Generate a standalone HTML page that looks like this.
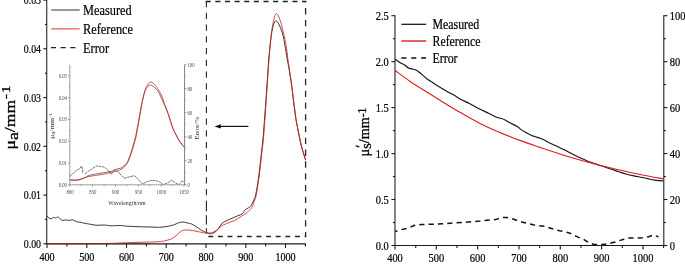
<!DOCTYPE html><html><head><meta charset="utf-8"><style>html,body{margin:0;padding:0;background:#fff}body{width:685px;height:264px;overflow:hidden;font-family:"Liberation Serif",serif}</style></head><body><svg width="685" height="264" viewBox="0 0 685 264" style="display:block">
<rect width="685" height="264" fill="#fff"/>
<g font-family="'Liberation Serif', serif" fill="#000">
<path d="M47.00,216.01 C47.33,216.34 48.32,217.48 48.99,217.96 C49.65,218.45 50.25,219.02 50.98,218.94 C51.70,218.86 52.56,217.64 53.36,217.48 C54.16,217.31 54.95,218.04 55.75,217.96 C56.54,217.88 57.34,216.74 58.13,216.99 C58.93,217.23 59.72,218.86 60.52,219.43 C61.31,219.99 62.04,220.32 62.90,220.40 C63.76,220.48 64.69,219.91 65.68,219.91 C66.68,219.91 67.67,220.40 68.86,220.40 C70.05,220.40 71.51,219.67 72.84,219.91 C74.16,220.16 75.49,221.46 76.81,221.86 C78.14,222.27 79.46,222.11 80.79,222.35 C82.11,222.59 83.11,223.00 84.76,223.33 C86.42,223.65 88.74,223.98 90.72,224.30 C92.71,224.62 94.37,225.15 96.69,225.28 C99.01,225.40 102.32,224.95 104.64,225.03 C106.96,225.11 108.02,225.68 110.60,225.76 C113.18,225.84 117.49,225.45 120.14,225.52 C122.79,225.58 123.98,225.97 126.50,226.15 C129.02,226.33 132.59,226.48 135.25,226.59 C137.90,226.71 139.88,226.77 142.40,226.84 C144.92,226.90 147.50,226.90 150.35,226.98 C153.20,227.06 156.91,227.39 159.49,227.32 C162.08,227.26 164.13,226.84 165.85,226.59 C167.58,226.35 168.57,226.13 169.83,225.86 C171.09,225.59 172.34,225.32 173.41,224.98 C174.47,224.64 175.33,224.18 176.19,223.81 C177.05,223.45 177.84,223.05 178.57,222.79 C179.30,222.53 179.90,222.38 180.56,222.25 C181.22,222.12 181.89,222.01 182.55,222.01 C183.21,222.01 183.81,222.12 184.53,222.25 C185.26,222.38 186.12,222.59 186.92,222.79 C187.72,222.98 188.51,223.22 189.31,223.42 C190.10,223.63 190.96,223.74 191.69,224.01 C192.42,224.28 192.95,224.60 193.68,225.03 C194.41,225.46 195.27,226.06 196.06,226.59 C196.86,227.12 197.72,227.70 198.45,228.20 C199.18,228.70 199.71,229.14 200.44,229.61 C201.16,230.09 202.03,230.60 202.82,231.03 C203.62,231.46 204.68,231.95 205.21,232.20 C205.74,232.44 205.67,232.39 206.00,232.49 C206.33,232.59 206.73,232.68 207.19,232.78 C207.66,232.89 208.19,233.07 208.78,233.12 C209.38,233.17 210.11,233.16 210.77,233.08 C211.43,232.99 212.03,232.90 212.76,232.59 C213.49,232.28 214.38,231.72 215.14,231.22 C215.90,230.73 216.60,230.32 217.33,229.61 C218.06,228.91 218.75,228.00 219.52,226.98 C220.28,225.97 221.04,224.41 221.90,223.52 C222.76,222.63 223.75,222.16 224.68,221.62 C225.61,221.08 226.47,220.77 227.47,220.30 C228.46,219.84 229.52,219.34 230.65,218.84 C231.77,218.34 233.03,217.79 234.22,217.28 C235.41,216.77 236.54,216.30 237.80,215.77 C239.06,215.24 240.85,214.64 241.78,214.11 C242.70,213.58 242.90,213.23 243.37,212.60 C243.83,211.97 244.03,210.92 244.56,210.31 C245.09,209.70 245.88,209.37 246.55,208.94 C247.21,208.51 247.90,208.13 248.53,207.73 C249.17,207.32 249.83,207.08 250.36,206.51 C250.89,205.94 251.25,205.10 251.71,204.31 C252.18,203.52 252.71,202.67 253.14,201.78 C253.57,200.88 253.93,199.89 254.30,198.95 C254.67,198.01 254.87,198.24 255.37,196.12 C255.87,194.01 256.63,190.27 257.28,186.28 C257.93,182.28 258.60,177.42 259.26,172.14 C259.93,166.86 260.62,160.28 261.25,154.59 C261.89,148.90 262.48,144.59 263.08,138.01 C263.68,131.43 264.35,121.44 264.83,115.10 C265.31,108.76 265.53,105.92 265.94,99.99 C266.36,94.06 266.87,86.18 267.33,79.51 C267.80,72.85 268.28,65.54 268.73,60.01 C269.17,54.49 269.59,50.34 270.00,46.36 C270.41,42.38 270.83,38.81 271.19,36.13 C271.55,33.44 271.85,31.98 272.18,30.28 C272.52,28.57 272.85,27.07 273.18,25.89 C273.51,24.71 273.84,23.95 274.17,23.21 C274.50,22.46 274.83,21.77 275.17,21.40 C275.50,21.04 275.83,21.00 276.16,21.01 C276.49,21.03 276.82,21.18 277.15,21.50 C277.48,21.82 277.81,22.39 278.15,22.96 C278.48,23.53 278.78,24.18 279.14,24.91 C279.50,25.64 279.94,26.37 280.33,27.35 C280.73,28.32 281.13,29.62 281.52,30.76 C281.92,31.90 282.32,32.71 282.72,34.18 C283.12,35.64 283.55,37.67 283.91,39.54 C284.27,41.41 284.54,43.28 284.90,45.39 C285.27,47.50 285.68,49.78 286.10,52.21 C286.51,54.65 286.94,57.41 287.41,60.01 C287.87,62.61 288.40,65.05 288.88,67.81 C289.36,70.58 289.77,73.34 290.27,76.59 C290.77,79.84 291.33,83.33 291.86,87.31 C292.39,91.29 292.79,95.28 293.45,100.48 C294.11,105.68 295.17,114.04 295.84,118.51 C296.50,122.98 296.83,124.20 297.43,127.29 C298.02,130.38 298.75,133.87 299.41,137.04 C300.08,140.21 300.74,143.62 301.40,146.30 C302.06,148.98 302.86,151.34 303.39,153.12 C303.92,154.91 304.22,155.89 304.58,157.03 C304.94,158.16 305.41,159.46 305.57,159.95" stroke="#222" stroke-width="0.9" fill="none"/><path d="M69.80,179.74 C70.03,179.76 70.64,179.83 71.17,179.87 C71.70,179.92 72.31,180.00 73.00,180.03 C73.68,180.05 74.52,180.04 75.28,180.00 C76.04,179.96 76.73,179.92 77.57,179.79 C78.40,179.65 79.43,179.40 80.31,179.18 C81.18,178.95 81.98,178.77 82.82,178.46 C83.66,178.14 84.46,177.73 85.33,177.28 C86.21,176.82 87.08,176.13 88.07,175.73 C89.06,175.33 90.20,175.12 91.27,174.88 C92.34,174.64 93.33,174.50 94.47,174.29 C95.61,174.09 96.83,173.86 98.12,173.64 C99.42,173.41 100.86,173.17 102.23,172.94 C103.60,172.71 104.90,172.50 106.34,172.27 C107.79,172.03 109.85,171.76 110.91,171.52 C111.98,171.29 112.21,171.13 112.74,170.85 C113.27,170.56 113.50,170.10 114.11,169.82 C114.72,169.55 115.63,169.41 116.39,169.21 C117.15,169.02 117.95,168.85 118.68,168.67 C119.41,168.49 120.17,168.38 120.78,168.12 C121.39,167.87 121.80,167.49 122.33,167.14 C122.86,166.79 123.48,166.41 123.98,166.01 C124.47,165.61 124.87,165.17 125.30,164.74 C125.73,164.32 125.96,164.42 126.53,163.48 C127.11,162.53 127.98,160.86 128.73,159.08 C129.47,157.29 130.25,155.12 131.01,152.75 C131.77,150.39 132.56,147.45 133.30,144.91 C134.03,142.36 134.71,140.44 135.40,137.49 C136.08,134.55 136.86,130.08 137.41,127.25 C137.95,124.41 138.21,123.14 138.69,120.49 C139.17,117.84 139.75,114.31 140.28,111.33 C140.82,108.35 141.37,105.08 141.88,102.61 C142.39,100.14 142.87,98.29 143.34,96.51 C143.82,94.73 144.30,93.13 144.72,91.93 C145.13,90.73 145.48,90.08 145.86,89.32 C146.24,88.55 146.62,87.88 147.00,87.35 C147.38,86.83 147.76,86.49 148.14,86.16 C148.52,85.82 148.90,85.51 149.28,85.35 C149.66,85.18 150.04,85.17 150.43,85.17 C150.81,85.18 151.19,85.25 151.57,85.39 C151.95,85.54 152.33,85.79 152.71,86.05 C153.09,86.30 153.43,86.59 153.85,86.92 C154.27,87.25 154.76,87.57 155.22,88.01 C155.68,88.44 156.14,89.03 156.59,89.53 C157.05,90.04 157.51,90.41 157.96,91.06 C158.42,91.71 158.91,92.62 159.33,93.46 C159.75,94.29 160.06,95.13 160.47,96.07 C160.89,97.02 161.37,98.04 161.85,99.13 C162.32,100.22 162.82,101.45 163.35,102.61 C163.89,103.78 164.49,104.87 165.04,106.10 C165.59,107.34 166.07,108.57 166.64,110.03 C167.21,111.48 167.86,113.04 168.47,114.82 C169.08,116.60 169.53,118.38 170.30,120.71 C171.06,123.03 172.28,126.78 173.04,128.77 C173.80,130.77 174.18,131.32 174.86,132.70 C175.55,134.08 176.39,135.64 177.15,137.06 C177.91,138.48 178.67,140.00 179.43,141.20 C180.19,142.40 181.11,143.45 181.72,144.25 C182.33,145.05 182.67,145.49 183.09,146.00 C183.51,146.50 184.04,147.09 184.23,147.30" stroke="#3a3a3a" stroke-width="0.7" fill="none"/><path d="M69.80,180.09 C70.49,180.13 72.69,180.30 73.91,180.33 C75.13,180.36 76.04,180.39 77.11,180.27 C78.17,180.14 79.24,179.88 80.31,179.57 C81.37,179.25 82.40,178.79 83.50,178.37 C84.61,177.94 85.79,177.36 86.93,177.02 C88.07,176.67 89.25,176.51 90.36,176.30 C91.46,176.08 92.34,175.93 93.55,175.73 C94.77,175.53 96.22,175.33 97.66,175.12 C99.11,174.91 100.79,174.72 102.23,174.47 C103.68,174.21 104.90,173.92 106.34,173.57 C107.79,173.22 109.62,172.71 110.91,172.37 C112.21,172.04 113.04,171.85 114.11,171.57 C115.18,171.28 116.39,170.95 117.31,170.67 C118.22,170.40 118.83,170.22 119.59,169.93 C120.35,169.65 121.19,169.37 121.88,168.97 C122.56,168.58 123.17,168.07 123.70,167.58 C124.24,167.08 124.49,166.69 125.07,166.01 C125.66,165.33 126.53,164.63 127.22,163.48 C127.90,162.32 128.48,160.86 129.18,159.08 C129.89,157.29 130.71,155.12 131.47,152.75 C132.23,150.39 133.02,147.45 133.75,144.91 C134.48,142.36 135.18,140.44 135.85,137.49 C136.53,134.55 137.28,130.08 137.82,127.25 C138.35,124.41 138.59,123.14 139.05,120.49 C139.52,117.84 140.09,114.31 140.60,111.33 C141.12,108.35 141.66,105.16 142.16,102.61 C142.65,100.07 143.13,98.00 143.57,96.07 C144.01,94.15 144.43,92.37 144.81,91.06 C145.19,89.75 145.51,89.06 145.86,88.23 C146.21,87.39 146.57,86.70 146.91,86.05 C147.25,85.39 147.59,84.81 147.91,84.30 C148.23,83.79 148.52,83.34 148.83,82.99 C149.13,82.65 149.41,82.41 149.74,82.23 C150.07,82.05 150.41,81.90 150.79,81.90 C151.17,81.90 151.59,82.01 152.02,82.23 C152.46,82.45 152.94,82.81 153.39,83.21 C153.85,83.61 154.31,84.12 154.76,84.63 C155.22,85.14 155.64,85.59 156.14,86.26 C156.63,86.94 157.20,87.83 157.73,88.66 C158.27,89.50 158.84,90.44 159.33,91.28 C159.83,92.11 160.28,92.88 160.70,93.68 C161.12,94.48 161.46,95.17 161.85,96.07 C162.23,96.98 162.64,98.11 162.99,99.13 C163.33,100.14 163.52,101.05 163.90,102.18 C164.28,103.30 164.81,104.65 165.27,105.88 C165.73,107.12 166.11,108.14 166.64,109.59 C167.17,111.04 167.86,112.82 168.47,114.60 C169.08,116.38 169.53,117.95 170.30,120.27 C171.06,122.60 172.28,126.52 173.04,128.56 C173.80,130.59 174.18,131.10 174.86,132.48 C175.55,133.86 176.39,135.42 177.15,136.84 C177.91,138.26 178.67,139.78 179.43,140.98 C180.19,142.18 181.11,143.23 181.72,144.03 C182.33,144.83 182.67,145.23 183.09,145.78 C183.51,146.32 184.04,147.05 184.23,147.30" stroke="#d62020" stroke-width="0.8" fill="none"/><path d="M69.80,176.40 L72.00,174.50 L74.50,172.00 L77.00,170.00 L79.50,168.80 L81.60,166.00 L82.30,169.00 L83.00,173.50" stroke="#222" stroke-width="0.65" fill="none" stroke-dasharray="2.6,0.7"/><path d="M85.00,174.20 L88.00,171.50 L91.00,169.50 L94.00,167.50 L96.50,166.00 L99.00,166.30 L101.00,166.50 L103.50,167.00 L105.60,168.00 L108.00,170.50 L110.00,173.00 L111.40,174.40 L112.60,172.50 L114.70,170.60 L116.30,171.30 L118.50,172.00 L120.20,174.00 L122.20,176.30 L124.40,178.20 L127.00,177.60 L129.70,176.80 L132.00,176.20 L134.30,175.80 L136.20,177.00 L138.10,179.10 L140.40,181.80 L142.60,184.00 L145.00,182.80 L148.00,181.40 L150.30,180.70 L152.50,180.30 L155.50,180.70 L158.60,181.40 L161.00,183.00 L163.10,184.40 L165.40,183.80 L167.70,182.90 L169.60,181.40 L171.50,180.30 L173.40,181.40 L175.30,182.90 L177.20,183.90 L179.10,184.40 L180.60,183.00 L182.10,180.60 L183.20,181.60 L184.10,182.10" stroke="#222" stroke-width="0.65" fill="none" stroke-dasharray="2.6,0.7"/><path d="M395.10,59.20 C395.95,59.78 398.67,61.78 400.20,62.70 C401.73,63.62 402.93,63.82 404.30,64.70 C405.67,65.58 407.03,67.28 408.40,68.00 C409.77,68.72 410.97,68.52 412.50,69.00 C414.03,69.48 416.02,69.97 417.60,70.90 C419.18,71.83 420.47,73.30 422.00,74.60 C423.53,75.90 424.80,77.23 426.80,78.70 C428.80,80.17 431.60,81.87 434.00,83.40 C436.40,84.93 438.87,86.48 441.20,87.90 C443.53,89.32 445.62,90.55 448.00,91.90 C450.38,93.25 453.42,94.77 455.50,96.00 C457.58,97.23 458.12,98.02 460.50,99.30 C462.88,100.58 466.63,102.07 469.80,103.70 C472.97,105.33 476.32,107.48 479.50,109.10 C482.68,110.72 486.07,112.03 488.90,113.40 C491.73,114.77 494.28,116.40 496.50,117.30 C498.72,118.20 500.62,118.27 502.20,118.80 C503.78,119.33 504.73,119.85 506.00,120.50 C507.27,121.15 507.92,121.68 509.80,122.70 C511.68,123.72 515.42,125.45 517.30,126.60 C519.18,127.75 519.73,128.65 521.10,129.60 C522.47,130.55 523.92,131.42 525.50,132.30 C527.08,133.18 528.97,134.17 530.60,134.90 C532.23,135.63 533.73,136.13 535.30,136.70 C536.87,137.27 538.42,137.70 540.00,138.30 C541.58,138.90 543.52,139.68 544.80,140.30 C546.08,140.92 545.97,141.12 547.70,142.00 C549.43,142.88 552.37,144.28 555.20,145.60 C558.03,146.92 562.48,148.83 564.70,149.90 C566.92,150.97 566.48,150.95 568.50,152.00 C570.52,153.05 574.38,155.03 576.80,156.20 C579.22,157.37 580.95,158.08 583.00,159.00 C585.05,159.92 587.22,160.95 589.10,161.70 C590.98,162.45 592.58,162.92 594.30,163.50 C596.02,164.08 597.53,164.57 599.40,165.20 C601.27,165.83 603.47,166.62 605.50,167.30 C607.53,167.98 609.38,168.57 611.60,169.30 C613.82,170.03 616.40,170.92 618.80,171.70 C621.20,172.48 623.47,173.30 626.00,174.00 C628.53,174.70 631.28,175.32 634.00,175.90 C636.72,176.48 639.88,177.00 642.30,177.50 C644.72,178.00 646.45,178.47 648.50,178.90 C650.55,179.33 652.85,179.82 654.60,180.10 C656.35,180.38 657.55,180.47 659.00,180.60 C660.45,180.73 662.58,180.85 663.30,180.90" stroke="#151515" stroke-width="1.15" fill="none"/><path d="M395.10,70.50 C397.67,72.37 405.22,78.12 410.50,81.70 C415.78,85.28 421.88,88.90 426.80,92.00 C431.72,95.10 436.92,98.37 440.00,100.30 C443.08,102.23 441.88,101.55 445.30,103.60 C448.72,105.65 454.57,109.22 460.50,112.60 C466.43,115.98 474.08,120.48 480.90,123.90 C487.72,127.32 494.92,130.35 501.40,133.10 C507.88,135.85 513.37,138.02 519.80,140.40 C526.23,142.78 533.22,145.10 540.00,147.40 C546.78,149.70 553.68,152.05 560.50,154.20 C567.32,156.35 574.42,158.47 580.90,160.30 C587.38,162.13 592.57,163.50 599.40,165.20 C606.23,166.90 614.75,168.87 621.90,170.50 C629.05,172.13 635.40,173.62 642.30,175.00 C649.20,176.38 659.80,178.17 663.30,178.80" stroke="#e21c1c" stroke-width="1.15" fill="none"/><path d="M395.10,231.60 L400.20,229.90 L408.40,228.10 L415.60,224.80 L420.70,224.60 L435.00,224.10 L450.00,223.30 L465.00,222.20 L480.00,221.10 L490.30,219.90 L495.40,219.60 L499.50,218.30 L503.60,217.50 L506.60,217.50 L508.70,217.90 L513.80,219.30 L517.90,220.70 L522.00,222.00 L528.20,223.60 L533.10,224.80 L538.20,225.60 L541.30,225.90 L545.40,226.50 L551.50,228.50 L556.60,230.20 L559.70,230.80 L564.80,231.60 L569.90,233.20 L575.00,235.70 L578.10,237.10 L583.60,239.40 L588.30,242.40 L593.40,244.30 L596.50,244.60 L602.70,244.50 L607.40,243.90 L611.90,242.80 L616.00,241.80 L620.00,240.40 L624.10,239.20 L629.30,238.10 L633.40,238.00 L638.50,237.90 L642.60,237.80 L648.70,236.70 L652.80,235.30 L658.50,236.70" stroke="#111" stroke-width="1.5" fill="none" stroke-dasharray="5.2,4.15" stroke-dashoffset="2.7"/>
<g stroke="#1a1a1a" stroke-width="1.1" fill="none">
<path d="M46.75,0 V244.35000000000002" stroke-width="1.0" stroke="#111"/>
<path d="M46.55,243.8 H305.8" stroke-width="1.15"/>
<path d="M43.3,243.8 H47.0"/>
<path d="M43.3,195.1 H47.0"/>
<path d="M43.3,146.3 H47.0"/>
<path d="M43.3,97.6 H47.0"/>
<path d="M43.3,48.8 H47.0"/>
<path d="M43.3,0.1 H47.0"/>
<path d="M44.9,219.4 H47.0"/>
<path d="M44.9,170.7 H47.0"/>
<path d="M44.9,121.9 H47.0"/>
<path d="M44.9,73.2 H47.0"/>
<path d="M44.9,24.4 H47.0"/>
<path d="M47.0,243.8 V247.9"/>
<path d="M86.8,243.8 V247.9"/>
<path d="M126.5,243.8 V247.9"/>
<path d="M166.2,243.8 V247.9"/>
<path d="M206.0,243.8 V247.9"/>
<path d="M245.8,243.8 V247.9"/>
<path d="M285.5,243.8 V247.9"/>
<path d="M66.9,243.8 V246.5"/>
<path d="M106.6,243.8 V246.5"/>
<path d="M146.4,243.8 V246.5"/>
<path d="M186.1,243.8 V246.5"/>
<path d="M225.9,243.8 V246.5"/>
<path d="M265.6,243.8 V246.5"/>
<path d="M305.4,243.8 V246.5"/>
</g>
<path d="M51.3,10 H79.7" stroke="#333" stroke-width="1"/>
<path d="M51.3,28.9 H79.7" stroke="#dd3030" stroke-width="1"/>
<path d="M50.9,47.7 H76" stroke="#222" stroke-width="1.25" stroke-dasharray="5.1,4.6"/>
<path d="M205.70,1.5H210.80M215.33,1.5H220.43M224.96,1.5H230.06M234.59,1.5H239.69M244.22,1.5H249.32M253.85,1.5H258.95M263.48,1.5H268.58M273.11,1.5H278.21M282.74,1.5H287.84M292.37,1.5H297.47M302.00,1.5H306.20M208.30,236.5H213.20M217.93,236.5H222.83M227.56,236.5H232.46M237.19,236.5H242.09M246.82,236.5H251.72M256.45,236.5H261.35M266.08,236.5H270.98M275.71,236.5H280.61M285.34,236.5H290.24M294.97,236.5H299.87M304.60,236.5H306.20" stroke="#222" stroke-width="1.3" fill="none"/>
<path d="M206.4,0.90V7.20M206.4,12.65V18.95M206.4,24.40V30.70M206.4,36.15V42.45M206.4,47.90V54.20M206.4,59.65V65.95M206.4,71.40V77.70M206.4,83.15V89.45M206.4,94.90V101.20M206.4,106.65V112.95M206.4,118.40V124.70M206.4,130.15V136.45M206.4,141.90V148.20M206.4,153.65V159.95M206.4,165.40V171.70M206.4,177.15V183.45M206.4,188.90V195.20M206.4,200.8V211.2M206.4,215.2V224.5M206.4,228.2V232.6" stroke="#222" stroke-width="1.1" fill="none"/>
<path d="M305.6,1.0V2.6M305.6,8.10V14.40M305.6,19.89V26.19M305.6,31.68V37.98M305.6,43.47V49.77M305.6,55.26V61.56M305.6,67.05V73.35M305.6,78.84V85.14M305.6,90.63V96.93M305.6,102.42V108.72M305.6,114.21V120.51M305.6,126.00V132.30M305.6,137.79V144.09M305.6,149.58V155.88M305.6,161.37V167.67M305.6,173.16V179.46M305.6,184.95V191.25M305.6,196.74V203.04M305.6,208.53V214.83M305.6,220.32V226.62M305.6,232.11V237.10" stroke="#2c2c2c" stroke-width="1.35" fill="none"/>
<path d="M47.00,243.70 C53.62,243.69 76.15,243.65 86.75,243.61 C97.35,243.56 103.97,243.56 110.60,243.41 C117.22,243.26 121.20,242.93 126.50,242.73 C131.80,242.52 137.10,242.36 142.40,242.19 C147.70,242.02 154.39,241.97 158.30,241.70 C162.21,241.44 163.60,241.09 165.85,240.58 C168.11,240.08 170.09,239.51 171.81,238.68 C173.54,237.85 174.80,236.74 176.19,235.61 C177.58,234.48 178.97,232.79 180.16,231.91 C181.35,231.02 182.22,230.61 183.34,230.30 C184.47,229.98 185.33,229.96 186.92,230.00 C188.51,230.05 190.83,230.27 192.88,230.59 C194.94,230.91 197.19,231.48 199.24,231.91 C201.30,232.33 204.08,232.90 205.21,233.12 C206.33,233.35 205.27,233.16 206.00,233.27 C206.73,233.38 208.52,233.74 209.58,233.81 C210.64,233.87 211.43,233.94 212.36,233.66 C213.29,233.38 214.22,232.81 215.14,232.10 C216.07,231.39 216.96,230.37 217.93,229.42 C218.89,228.47 219.91,227.17 220.91,226.40 C221.90,225.62 222.93,225.27 223.89,224.79 C224.85,224.31 225.61,223.96 226.67,223.52 C227.73,223.08 228.99,222.63 230.25,222.16 C231.51,221.68 232.96,221.27 234.22,220.69 C235.48,220.12 236.54,219.47 237.80,218.69 C239.06,217.91 240.65,216.76 241.78,216.01 C242.90,215.27 243.63,214.84 244.56,214.21 C245.49,213.58 246.55,212.82 247.34,212.21 C248.13,211.60 248.67,211.19 249.33,210.55 C249.99,209.92 250.72,209.29 251.31,208.41 C251.91,207.53 252.44,206.39 252.91,205.29 C253.37,204.18 253.59,203.31 254.10,201.78 C254.61,200.25 255.37,198.71 255.97,196.12 C256.56,193.54 257.06,190.27 257.68,186.28 C258.29,182.28 259.00,177.42 259.66,172.14 C260.33,166.86 261.01,160.28 261.65,154.59 C262.29,148.90 262.89,144.59 263.48,138.01 C264.07,131.43 264.72,121.44 265.19,115.10 C265.65,108.76 265.86,105.92 266.26,99.99 C266.67,94.06 267.16,86.18 267.61,79.51 C268.06,72.85 268.53,65.70 268.96,60.01 C269.39,54.33 269.81,49.69 270.20,45.39 C270.58,41.08 270.94,37.10 271.27,34.18 C271.60,31.25 271.88,29.71 272.18,27.84 C272.49,25.97 272.80,24.43 273.10,22.96 C273.40,21.50 273.69,20.20 273.97,19.06 C274.25,17.93 274.50,16.91 274.77,16.14 C275.03,15.37 275.28,14.84 275.56,14.43 C275.85,14.03 276.15,13.70 276.48,13.70 C276.81,13.70 277.17,13.94 277.55,14.43 C277.93,14.92 278.35,15.73 278.74,16.62 C279.14,17.52 279.54,18.66 279.94,19.79 C280.33,20.93 280.70,21.95 281.13,23.45 C281.56,24.95 282.06,26.94 282.52,28.81 C282.98,30.68 283.48,32.79 283.91,34.66 C284.34,36.53 284.74,38.24 285.10,40.03 C285.47,41.81 285.77,43.36 286.10,45.39 C286.43,47.42 286.79,49.94 287.09,52.21 C287.39,54.49 287.55,56.52 287.88,59.04 C288.22,61.56 288.68,64.56 289.08,67.32 C289.47,70.09 289.81,72.36 290.27,75.61 C290.73,78.86 291.33,82.84 291.86,86.83 C292.39,90.81 292.79,94.30 293.45,99.50 C294.11,104.70 295.17,113.48 295.84,118.03 C296.50,122.58 296.83,123.71 297.43,126.80 C298.02,129.89 298.75,133.38 299.41,136.55 C300.08,139.72 300.74,143.13 301.40,145.81 C302.06,148.49 302.86,150.85 303.39,152.64 C303.92,154.42 304.22,155.32 304.58,156.54 C304.94,157.76 305.41,159.38 305.57,159.95" stroke="#d41c1c" stroke-width="1.0" stroke-opacity="0.82" fill="none"/>
<path d="M47.0,243.8 H150" stroke="#1a1a1a" stroke-width="1.1" stroke-opacity="0.3" fill="none"/>
<path d="M248.4,126.4 H219" stroke="#111" stroke-width="1.2"/>
<path d="M214.5,126.4 L220.8,124.2 L220.8,128.6 Z" fill="#111"/>
<g stroke="#7d7d7d" stroke-width="0.8" fill="none">
<path d="M69.8,64.8 V184.8 H184.6" stroke="#858585"/>
<path d="M184.6,185.20000000000002 V64.8" stroke="#5e5e5e"/>
<path d="M68.1,184.8 H69.8"/>
<path d="M68.1,163.0 H69.8"/>
<path d="M68.1,141.2 H69.8"/>
<path d="M68.1,119.4 H69.8"/>
<path d="M68.1,97.6 H69.8"/>
<path d="M68.1,75.8 H69.8"/>
<path d="M68.8,173.9 H69.8"/>
<path d="M68.8,152.1 H69.8"/>
<path d="M68.8,130.3 H69.8"/>
<path d="M68.8,108.5 H69.8"/>
<path d="M68.8,86.7 H69.8"/>
<path d="M184.6,184.8 h1.8"/>
<path d="M184.6,160.7 h1.8"/>
<path d="M184.6,136.7 h1.8"/>
<path d="M184.6,112.6 h1.8"/>
<path d="M184.6,88.6 h1.8"/>
<path d="M184.6,64.5 h1.8"/>
<path d="M184.6,172.8 h1.0"/>
<path d="M184.6,148.7 h1.0"/>
<path d="M184.6,124.7 h1.0"/>
<path d="M184.6,100.6 h1.0"/>
<path d="M184.6,76.5 h1.0"/>
<path d="M69.8,184.8 v1.7"/>
<path d="M92.6,184.8 v1.7"/>
<path d="M115.5,184.8 v1.7"/>
<path d="M138.3,184.8 v1.7"/>
<path d="M161.2,184.8 v1.7"/>
<path d="M184.0,184.8 v1.7"/>
<path d="M81.2,184.8 v1.0"/>
<path d="M104.1,184.8 v1.0"/>
<path d="M126.9,184.8 v1.0"/>
<path d="M149.7,184.8 v1.0"/>
<path d="M172.6,184.8 v1.0"/>
</g>
<g stroke="#1a1a1a" stroke-width="1.1" fill="none">
<path d="M395.0,15.2 V246.05 M663.8,246.05 V15.2" stroke-width="1.05"/>
<path d="M394.55,245.5 H664.25" stroke-width="1.15"/>
<path d="M391.4,245.5 H395.0"/>
<path d="M391.4,199.5 H395.0"/>
<path d="M391.4,153.6 H395.0"/>
<path d="M391.4,107.6 H395.0"/>
<path d="M391.4,61.7 H395.0"/>
<path d="M391.4,15.7 H395.0"/>
<path d="M392.9,222.5 H395.0"/>
<path d="M392.9,176.6 H395.0"/>
<path d="M392.9,130.6 H395.0"/>
<path d="M392.9,84.6 H395.0"/>
<path d="M392.9,38.7 H395.0"/>
<path d="M663.8,245.5 h3.6"/>
<path d="M663.8,199.5 h3.6"/>
<path d="M663.8,153.6 h3.6"/>
<path d="M663.8,107.6 h3.6"/>
<path d="M663.8,61.7 h3.6"/>
<path d="M663.8,15.7 h3.6"/>
<path d="M663.8,222.5 h2.1"/>
<path d="M663.8,176.6 h2.1"/>
<path d="M663.8,130.6 h2.1"/>
<path d="M663.8,84.6 h2.1"/>
<path d="M663.8,38.7 h2.1"/>
<path d="M395.0,245.5 v3.9"/>
<path d="M436.3,245.5 v3.9"/>
<path d="M477.7,245.5 v3.9"/>
<path d="M519.0,245.5 v3.9"/>
<path d="M560.3,245.5 v3.9"/>
<path d="M601.6,245.5 v3.9"/>
<path d="M643.0,245.5 v3.9"/>
<path d="M415.7,245.5 v2.5"/>
<path d="M457.0,245.5 v2.5"/>
<path d="M498.3,245.5 v2.5"/>
<path d="M539.7,245.5 v2.5"/>
<path d="M581.0,245.5 v2.5"/>
<path d="M622.3,245.5 v2.5"/>
<path d="M663.6,245.5 v2.5"/>
</g>
<path d="M356.2,145.8 L358.9,146.8" stroke="#111" stroke-width="1.25" stroke-linecap="round"/>
<path d="M401.4,24.3 H426.2" stroke="#111" stroke-width="1.25"/>
<path d="M401.4,41 H426.2" stroke="#d41a1a" stroke-width="1.35"/>
<path d="M401.4,57.9 H427" stroke="#111" stroke-width="1.5" stroke-dasharray="5.0,4.85"/>
<g style="filter:grayscale(1)" stroke="#000" stroke-width="0.22"><text transform="translate(41.00,248.10) scale(0.85,1)" font-size="11.6" text-anchor="end">0.00</text><text transform="translate(41.00,199.35) scale(0.85,1)" font-size="11.6" text-anchor="end">0.01</text><text transform="translate(41.00,150.60) scale(0.85,1)" font-size="11.6" text-anchor="end">0.02</text><text transform="translate(41.00,101.85) scale(0.85,1)" font-size="11.6" text-anchor="end">0.03</text><text transform="translate(41.00,53.10) scale(0.85,1)" font-size="11.6" text-anchor="end">0.04</text><text transform="translate(41.00,4.35) scale(0.85,1)" font-size="11.6" text-anchor="end">0.05</text><text transform="translate(47.00,261.00) scale(0.85,1)" font-size="11.9" text-anchor="middle">400</text><text transform="translate(86.75,261.00) scale(0.85,1)" font-size="11.9" text-anchor="middle">500</text><text transform="translate(126.50,261.00) scale(0.85,1)" font-size="11.9" text-anchor="middle">600</text><text transform="translate(166.25,261.00) scale(0.85,1)" font-size="11.9" text-anchor="middle">700</text><text transform="translate(206.00,261.00) scale(0.85,1)" font-size="11.9" text-anchor="middle">800</text><text transform="translate(245.75,261.00) scale(0.85,1)" font-size="11.9" text-anchor="middle">900</text><text transform="translate(285.50,261.00) scale(0.85,1)" font-size="11.9" text-anchor="middle">1000</text><text transform="translate(14.5,149.4) rotate(-90) scale(1,0.825)" font-size="17.6" stroke-width="0.4">μ<tspan dy="4.16">a</tspan><tspan dy="-4.16">/mm</tspan><tspan font-size="14.8" dy="-4.9" dx="0.9">-</tspan><tspan font-size="14.8" dx="1.0">1</tspan></text><text transform="translate(83.00,15.00) scale(0.792,1)" font-size="15.6" text-anchor="start">Measured</text><text transform="translate(83.00,33.80) scale(0.792,1)" font-size="15.6" text-anchor="start">Reference</text><text transform="translate(83.00,52.80) scale(0.792,1)" font-size="15.6" text-anchor="start">Error</text><text transform="translate(67.00,186.80) scale(0.82,1)" font-size="5.8" text-anchor="end" fill="#484848" stroke="none">0.00</text><text transform="translate(67.00,165.00) scale(0.82,1)" font-size="5.8" text-anchor="end" fill="#484848" stroke="none">0.01</text><text transform="translate(67.00,143.20) scale(0.82,1)" font-size="5.8" text-anchor="end" fill="#484848" stroke="none">0.02</text><text transform="translate(67.00,121.40) scale(0.82,1)" font-size="5.8" text-anchor="end" fill="#484848" stroke="none">0.03</text><text transform="translate(67.00,99.60) scale(0.82,1)" font-size="5.8" text-anchor="end" fill="#484848" stroke="none">0.04</text><text transform="translate(67.00,77.80) scale(0.82,1)" font-size="5.8" text-anchor="end" fill="#484848" stroke="none">0.05</text><text transform="translate(187.50,186.80) scale(0.82,1)" font-size="5.8" text-anchor="start" fill="#484848" stroke="none">0</text><text transform="translate(187.50,162.74) scale(0.82,1)" font-size="5.8" text-anchor="start" fill="#484848" stroke="none">20</text><text transform="translate(187.50,138.68) scale(0.82,1)" font-size="5.8" text-anchor="start" fill="#484848" stroke="none">40</text><text transform="translate(187.50,114.62) scale(0.82,1)" font-size="5.8" text-anchor="start" fill="#484848" stroke="none">60</text><text transform="translate(187.50,90.56) scale(0.82,1)" font-size="5.8" text-anchor="start" fill="#484848" stroke="none">80</text><text transform="translate(187.50,66.50) scale(0.82,1)" font-size="5.8" text-anchor="start" fill="#484848" stroke="none">100</text><text transform="translate(70.00,193.90) scale(0.82,1)" font-size="5.8" text-anchor="middle" fill="#484848" stroke="none">800</text><text transform="translate(92.84,193.90) scale(0.82,1)" font-size="5.8" text-anchor="middle" fill="#484848" stroke="none">850</text><text transform="translate(115.68,193.90) scale(0.82,1)" font-size="5.8" text-anchor="middle" fill="#484848" stroke="none">900</text><text transform="translate(138.52,193.90) scale(0.82,1)" font-size="5.8" text-anchor="middle" fill="#484848" stroke="none">950</text><text transform="translate(161.36,193.90) scale(0.82,1)" font-size="5.8" text-anchor="middle" fill="#484848" stroke="none">1000</text><text transform="translate(184.20,193.90) scale(0.82,1)" font-size="5.8" text-anchor="middle" fill="#484848" stroke="none">1050</text><text transform="translate(108.30,204.60) scale(0.845,1)" font-size="7.0" text-anchor="start" fill="#333" stroke="none">Wavelength/nm</text><text transform="translate(53.9,125.9) rotate(-90) scale(1,0.76)" font-size="7.4" text-anchor="middle" fill="#333" stroke="none">μ<tspan dy="1.6">a</tspan><tspan dy="-1.6">/mm</tspan><tspan font-size="6.0" dy="-2.3">-1</tspan></text><text transform="translate(199.2,128.2) rotate(-90) scale(1,0.9)" font-size="7.1" text-anchor="middle" fill="#333" stroke="none">Error/%</text><text transform="translate(388.80,249.50) scale(0.85,1)" font-size="12.3" text-anchor="end">0.0</text><text transform="translate(388.80,203.54) scale(0.85,1)" font-size="12.3" text-anchor="end">0.5</text><text transform="translate(388.80,157.58) scale(0.85,1)" font-size="12.3" text-anchor="end">1.0</text><text transform="translate(388.80,111.62) scale(0.85,1)" font-size="12.3" text-anchor="end">1.5</text><text transform="translate(388.80,65.66) scale(0.85,1)" font-size="12.3" text-anchor="end">2.0</text><text transform="translate(388.80,19.70) scale(0.85,1)" font-size="12.3" text-anchor="end">2.5</text><text transform="translate(669.80,249.50) scale(0.85,1)" font-size="12.3" text-anchor="start">0</text><text transform="translate(669.80,203.54) scale(0.85,1)" font-size="12.3" text-anchor="start">20</text><text transform="translate(669.80,157.58) scale(0.85,1)" font-size="12.3" text-anchor="start">40</text><text transform="translate(669.80,111.62) scale(0.85,1)" font-size="12.3" text-anchor="start">60</text><text transform="translate(669.80,65.66) scale(0.85,1)" font-size="12.3" text-anchor="start">80</text><text transform="translate(669.80,19.70) scale(0.85,1)" font-size="12.3" text-anchor="start">100</text><text transform="translate(395.00,262.30) scale(0.85,1)" font-size="12.3" text-anchor="middle">400</text><text transform="translate(436.33,262.30) scale(0.85,1)" font-size="12.3" text-anchor="middle">500</text><text transform="translate(477.66,262.30) scale(0.85,1)" font-size="12.3" text-anchor="middle">600</text><text transform="translate(518.99,262.30) scale(0.85,1)" font-size="12.3" text-anchor="middle">700</text><text transform="translate(560.32,262.30) scale(0.85,1)" font-size="12.3" text-anchor="middle">800</text><text transform="translate(601.65,262.30) scale(0.85,1)" font-size="12.3" text-anchor="middle">900</text><text transform="translate(642.98,262.30) scale(0.85,1)" font-size="12.3" text-anchor="middle">1000</text><text transform="translate(369,156.4) rotate(-90) scale(1,1.03)" font-size="14.2" stroke-width="0.3">μ<tspan dy="1.8">s</tspan><tspan dy="-1.8">/mm</tspan><tspan font-size="11.5" dy="-3.2">-1</tspan></text><text transform="translate(432.50,29.20) scale(0.818,1)" font-size="14.5" text-anchor="start">Measured</text><text transform="translate(432.50,45.90) scale(0.818,1)" font-size="14.5" text-anchor="start">Reference</text><text transform="translate(432.50,62.60) scale(0.818,1)" font-size="14.5" text-anchor="start">Error</text></g>
</g></svg></body></html>
